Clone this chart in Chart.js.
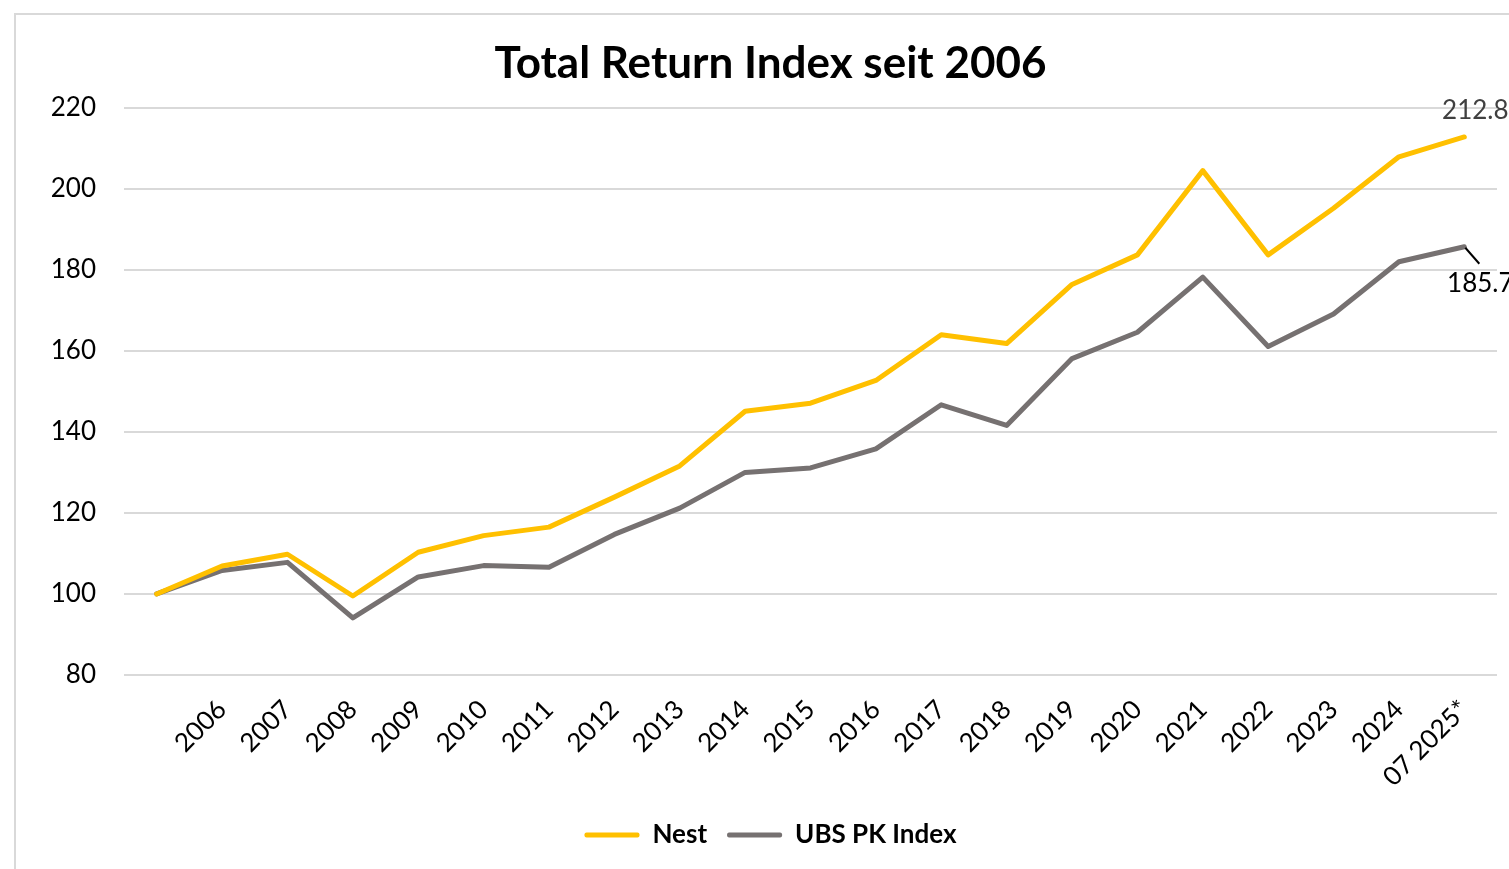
<!DOCTYPE html>
<html>
<head>
<meta charset="utf-8">
<script src="https://cdn.jsdelivr.net/npm/chart.js@4.4.1/dist/chart.umd.min.js"></script>
<style>
    html, body { margin: 0; padding: 0; background: #fff; overflow: hidden; }
    #frame { position: absolute; left: 14px; top: 13px; width: 1600px; height: 900px; border: 2px solid #d9d9d9; }
    #wrap { position: absolute; left: 0; top: 0; width: 1509px; height: 869px; }
</style>
</head>
<body>
<div id="frame"></div>
<div id="wrap"><canvas id="totalReturn"></canvas></div>
<script>
// Categories and values
const years = ['', '2006', '2007', '2008', '2009', '2010', '2011', '2012', '2013', '2014', '2015',
    '2016', '2017', '2018', '2019', '2020', '2021', '2022', '2023', '2024', '07 2025*'];
const nestValues = [100, 106.9, 109.8, 99.5, 110.3, 114.4, 116.5, 123.9, 131.6, 145.1, 147.1,
    152.7, 164.0, 161.8, 176.4, 183.7, 204.5, 183.7, 195.2, 207.9, 212.8];
const ubsValues = [100, 105.8, 107.8, 94.1, 104.2, 107.0, 106.6, 114.7, 121.2, 130.0, 131.1,
    135.8, 146.7, 141.6, 158.1, 164.6, 178.2, 161.1, 169.1, 182.0, 185.7];
const yTicks = [80, 100, 120, 140, 160, 180, 200, 220];

const nestColor = '#FFC000';
const ubsColor = '#767171';

// Draws the value of the last point of each line, like the Excel data labels.
const lastValueLabels = {
    id: 'lastValueLabels',
    afterDatasetsDraw(chart) {
        const ctx = chart.ctx;
        ctx.save();
        ctx.font = '26px Lato';
        ctx.textAlign = 'center';
        ctx.textBaseline = 'middle';

        const nestMeta = chart.getDatasetMeta(0);
        const nestPt = nestMeta.data[nestMeta.data.length - 1];
        ctx.fillStyle = '#404040';
        ctx.fillText(nestValues[nestValues.length - 1].toFixed(1), nestPt.x + 11, nestPt.y - 26);

        const ubsMeta = chart.getDatasetMeta(1);
        const ubsPt = ubsMeta.data[ubsMeta.data.length - 1];
        ctx.strokeStyle = '#000';
        ctx.lineWidth = 2;
        ctx.beginPath();
        ctx.moveTo(ubsPt.x + 1, ubsPt.y + 1);
        ctx.lineTo(ubsPt.x + 15, ubsPt.y + 17);
        ctx.stroke();
        ctx.fillStyle = '#000';
        ctx.fillText(ubsValues[ubsValues.length - 1].toFixed(1), ubsPt.x + 16, ubsPt.y + 37);
        ctx.restore();
    }
};

function createChart() {
    const ctx = document.getElementById('totalReturn').getContext('2d');
    const config = {
        type: 'line',
        data: {
            labels: years,
            datasets: [{
                label: 'Nest',
                data: nestValues,
                borderColor: nestColor,
                backgroundColor: nestColor,
                borderWidth: 5,
                pointRadius: 0,
                tension: 0,
                borderJoinStyle: 'round',
                borderCapStyle: 'round'
            }, {
                label: 'UBS PK Index',
                data: ubsValues,
                borderColor: ubsColor,
                backgroundColor: ubsColor,
                borderWidth: 5,
                pointRadius: 0,
                tension: 0,
                borderJoinStyle: 'round',
                borderCapStyle: 'round'
            }]
        },
        options: {
            responsive: true,
            maintainAspectRatio: false,
            animation: false,
            layout: {
                padding: { left: 44, right: 12, top: 0, bottom: 11 }
            },
            scales: {
                x: {
                    offset: true,
                    grid: { display: false, drawTicks: false },
                    border: { display: false },
                    ticks: {
                        color: '#000',
                        font: { family: 'Lato', size: 26 },
                        minRotation: 45,
                        maxRotation: 45,
                        autoSkip: false,
                        padding: 19
                    },
                    afterFit: function(scale) { scale.height = 127; }
                },
                y: {
                    min: 80,
                    max: 220,
                    afterBuildTicks: function(scale) {
                        scale.ticks = yTicks.map(v => ({ value: v }));
                    },
                    grid: { color: '#d9d9d9', lineWidth: 2, drawTicks: false },
                    border: { display: false },
                    ticks: {
                        color: '#000',
                        font: { family: 'Lato', size: 26 },
                        padding: 28
                    },
                    afterFit: function(scale) { scale.width = 80; }
                }
            },
            plugins: {
                title: {
                    display: true,
                    text: 'Total Return Index seit 2006',
                    color: '#000',
                    font: { family: 'Lato', size: 44, weight: 'bold' },
                    padding: { top: 37, bottom: 18 }
                },
                legend: {
                    display: true,
                    position: 'bottom',
                    labels: {
                        color: '#000',
                        font: { family: 'Lato', size: 26, weight: 'bold' },
                        boxWidth: 55,
                        boxHeight: 5,
                        useBorderRadius: true,
                        borderRadius: 2,
                        padding: 20,
                        generateLabels: function(chart) {
                            return Chart.defaults.plugins.legend.labels.generateLabels(chart)
                                .map(item => Object.assign(item, { lineWidth: 0 }));
                        }
                    }
                },
                tooltip: { enabled: false }
            }
        },
        plugins: [lastValueLabels]
    };

    totalReturnChart = new Chart(ctx, config);
}

createChart();
</script>
</body>
</html>
